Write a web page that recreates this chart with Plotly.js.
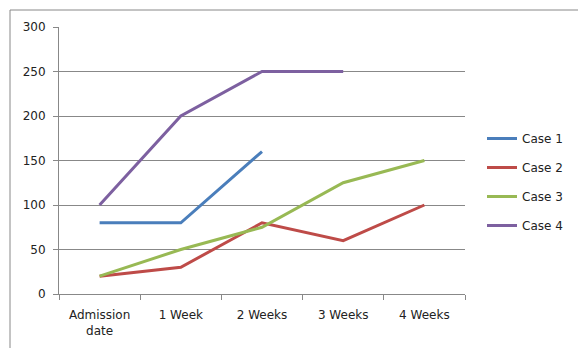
<!DOCTYPE html>
<html><head><meta charset="utf-8">
<script src="https://cdn.plot.ly/plotly-3.0.1.min.js"></script>
<style>html,body{margin:0;padding:0;background:#fff}#c{width:578px;height:348px}</style>
</head><body><div id="c"></div>
<script>
const categories = ["Admission<br>date", "1 Week", "2 Weeks", "3 Weeks", "4 Weeks"];
const seriesNames = ["Case 1", "Case 2", "Case 3", "Case 4"];
const case1 = [80, 80, 160, null, null];
const case2 = [20, 30, 80, 60, 100];
const case3 = [20, 50, 75, 125, 150];
const case4 = [100, 200, 250, 250, null];
const yTicks = [0, 50, 100, 150, 200, 250, 300];

const colors = ["#4A7EBB", "#BE4B48", "#98B954", "#7D60A0"];
const allSeries = [case1, case2, case3, case4];
const data = allSeries.map((vals, i) => ({
  type: "scatter", mode: "lines", x: categories, y: vals, name: seriesNames[i],
  legendgroup: "g" + i, connectgaps: false,
  line: {color: colors[i], width: 3}
}));

const L = 59, R = 465, T = 27, B = 294;
const W = 578, H = 348;
const px = v => (v - L) / (R - L);
const py = v => (B - v) / (B - T);

const layout = {
  width: W, height: H,
  margin: {l: L, r: W - R, t: T, b: H - B, pad: 0, autoexpand: false},
  paper_bgcolor: "#fff", plot_bgcolor: "#fff",
  font: {family: "DejaVu Sans, Verdana, sans-serif", size: 12, color: "#222"},
  showlegend: true,
  legend: {x: px(482), y: py(124), xanchor: "left", yanchor: "top",
    traceorder: "grouped", tracegroupgap: 10, font: {size: 12, color: "#222"},
    bgcolor: "rgba(0,0,0,0)"},
  xaxis: {type: "category", range: [-0.5, 4.5], tickson: "boundaries",
    ticks: "outside", ticklen: 5, tickcolor: "#888", showline: true, linecolor: "#888",
    showgrid: false, zeroline: false, fixedrange: true, tickfont: {size: 12},
    ticklabelstandoff: 10, automargin: false},
  yaxis: {range: [0, 300], tickvals: yTicks, ticks: "outside", ticklen: 5, tickcolor: "#888",
    showline: true, linecolor: "#888", gridcolor: "#888", gridwidth: 1, zeroline: false,
    fixedrange: true, tickfont: {size: 12}, ticklabelstandoff: 5, automargin: false},
  shapes: [{type: "rect", xref: "paper", yref: "paper",
    x0: px(10), x1: px(600), y0: py(370), y1: py(10),
    line: {color: "#888", width: 1}, fillcolor: "rgba(0,0,0,0)", layer: "below"}]
};
Plotly.newPlot("c", data, layout, {displayModeBar: false, staticPlot: true});
</script></body></html>
